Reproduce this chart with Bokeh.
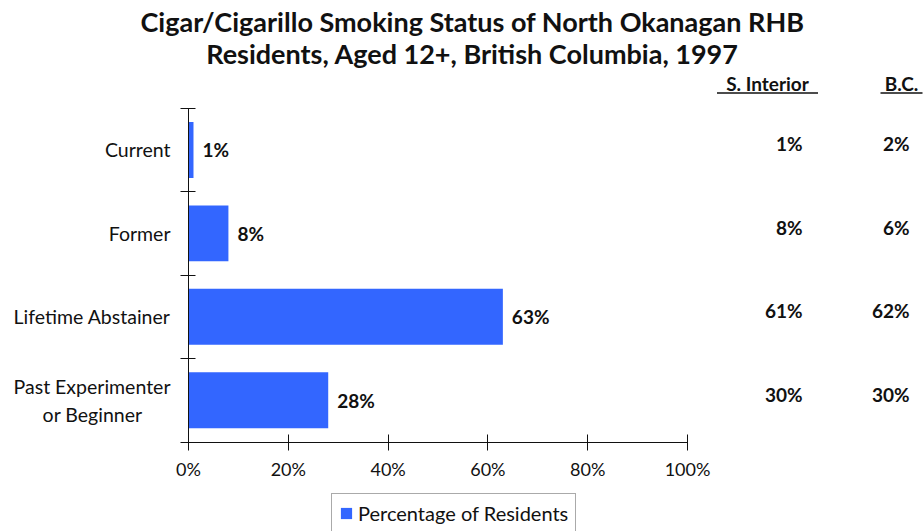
from bokeh.plotting import figure
from bokeh.models import (Range1d, FixedTicker, ColumnDataSource, Legend, LegendItem,
                          LinearAxis)
from bokeh.core.properties import value
from bokeh.embed import file_html
from bokeh.resources import INLINE

# ---- data ----
categories = ["Current", "Former", "Lifetime Abstainer", "Past Experimenter\nor Beginner"]
residents = [1, 8, 63, 28]
s_interior = [1, 8, 61, 30]
bc = [2, 6, 62, 30]
x_ticks = [0, 20, 40, 60, 80, 100]
x_tick_labels = ["0%", "20%", "40%", "60%", "80%", "100%"]
title_lines = ["Cigar/Cigarillo Smoking Status of North Okanagan RHB",
               "Residents, Aged 12+, British Columbia, 1997"]
col_headers = ["S. Interior", "B.C."]
legend_label = "Percentage of Residents"

FONT = "Lato"
BLUE = "#3366FF"
INK = "#111111"

W, H = 924, 531
ORIGIN_X = 188          # picture x of 0 %
AXIS_TOP = 107.7
AXIS_BOTTOM = 441.5
PX_PER_PCT = 4.99
UNIT = (AXIS_BOTTOM - AXIS_TOP) / 4
XSTART = -ORIGIN_X / PX_PER_PCT
XEND = (W - ORIGIN_X) / PX_PER_PCT
YEND = 3.5 + AXIS_TOP / UNIT
YSTART = 3.5 - (H - AXIS_TOP) / UNIT
LINE_GAP = 14 / UNIT    # half distance between the two lines of a wrapped label

def dx(px):  # picture x -> data x
    return (px - ORIGIN_X) / PX_PER_PCT

def dy(py):  # picture y -> data y
    return YEND - py / UNIT

n = len(categories)
ypos = [n - 1 - i for i in range(n)]  # Current on top

p = figure(width=W, height=H, x_range=Range1d(XSTART, XEND), y_range=Range1d(YSTART, YEND),
           min_border_left=0, min_border_right=0, min_border_top=0,
           min_border_bottom=0, toolbar_location=None, output_backend="svg",
           outline_line_color=None)
p.grid.visible = False

src = ColumnDataSource(dict(y=ypos, v=residents,
                            lab=[f"{v}%" for v in residents],
                            si=[f"{v}%" for v in s_interior],
                            bc=[f"{v}%" for v in bc]))

bars = p.hbar(y="y", right="v", left=0, height=0.67, source=src,
              fill_color=BLUE, line_color=None)

# value labels next to bars
p.text(x="v", y="y", text="lab", source=src, x_offset=9, text_align="left",
       text_baseline="middle", text_font=value(FONT), text_font_style="bold",
       text_font_size="19px", text_color=INK)

# comparison columns
p.text(x=dx(802), y="y", text="si", source=src, y_offset=-6, text_align="right",
       text_baseline="middle", text_font=value(FONT), text_font_style="bold",
       text_font_size="19px", text_color=INK)
p.text(x=dx(909), y="y", text="bc", source=src, y_offset=-6, text_align="right",
       text_baseline="middle", text_font=value(FONT), text_font_style="bold",
       text_font_size="19px", text_color=INK)

# column headers with underline
hx = [dx(767), dx(901)]
hw = [101, 42]
p.text(x=hx, y=[dy(83)] * 2, text=col_headers, text_align="center",
       text_baseline="middle", text_font=value(FONT), text_font_style="bold",
       text_font_size="19px", text_color=INK)
p.segment(x0=[hx[i] - hw[i] / 2 / PX_PER_PCT for i in range(2)],
          x1=[hx[i] + hw[i] / 2 / PX_PER_PCT for i in range(2)],
          y0=[dy(92.5)] * 2, y1=[dy(92.5)] * 2, line_color=INK, line_width=1.5)

# title
p.text(x=[dx(472)] * 2, y=[dy(21), dy(53)], text=title_lines, text_align="center",
       text_baseline="middle", text_font=value(FONT), text_font_style="bold",
       text_font_size="27px", text_color=INK)

# x axis
xa = p.xaxis[0]
xa.fixed_location = -0.5
xa.ticker = FixedTicker(ticks=x_ticks)
xa.major_label_overrides = {t: l for t, l in zip(x_ticks, x_tick_labels)}
xa.bounds = (0, 100)
xa.major_tick_in = 8
xa.major_tick_out = 8
xa.minor_tick_line_color = None
xa.major_label_standoff = 8
xa.major_label_text_font = FONT
xa.major_label_text_font_size = "18px"
xa.major_label_text_color = INK
xa.axis_line_color = INK
xa.major_tick_line_color = INK

# y axis: first line of every category label (right aligned)
first_lines = {}
second_lines = {}
for y, c in zip(ypos, categories):
    parts = c.split("\n")
    if len(parts) == 1:
        first_lines[y] = parts[0]
    else:
        first_lines[y + LINE_GAP] = parts[0]
        second_lines[y - LINE_GAP] = parts[1]

LABEL_KW = dict(major_label_text_font=FONT, major_label_text_font_size="19.5px",
                major_label_text_color=INK)

ya = p.yaxis[0]
ya.fixed_location = 0
ya.ticker = FixedTicker(ticks=list(first_lines.keys()),
                        minor_ticks=[k - 0.5 for k in range(n + 1)])
ya.major_label_overrides = first_lines
ya.bounds = (-0.5, n - 0.5)
ya.major_tick_in = 0
ya.major_tick_out = 0
ya.minor_tick_in = 7
ya.minor_tick_out = 8
ya.minor_tick_line_color = INK
ya.major_label_standoff = 10
ya.axis_line_color = INK
for k, v in LABEL_KW.items():
    setattr(ya, k, v)

# second lines of wrapped labels, shifted so both lines appear centred
ya2 = LinearAxis(fixed_location=0,
                 ticker=FixedTicker(ticks=list(second_lines.keys()), minor_ticks=[]),
                 major_label_overrides=second_lines,
                 axis_line_color=None, major_tick_line_color=None,
                 minor_tick_line_color=None, major_tick_in=0, major_tick_out=0,
                 major_label_standoff=46, **LABEL_KW)
p.add_layout(ya2, "left")

legend = Legend(items=[LegendItem(label=legend_label, renderers=[bars])],
                location=(331, -2), orientation="horizontal", margin=0,
                label_text_font=FONT, label_text_font_size="20px",
                label_text_color=INK, glyph_width=14, glyph_height=14,
                padding=7, border_line_color="#555555", border_line_width=1.5,
                background_fill_alpha=1.0, label_standoff=5)
p.add_layout(legend, "center")

open("out.html", "w").write(file_html(p, INLINE))
